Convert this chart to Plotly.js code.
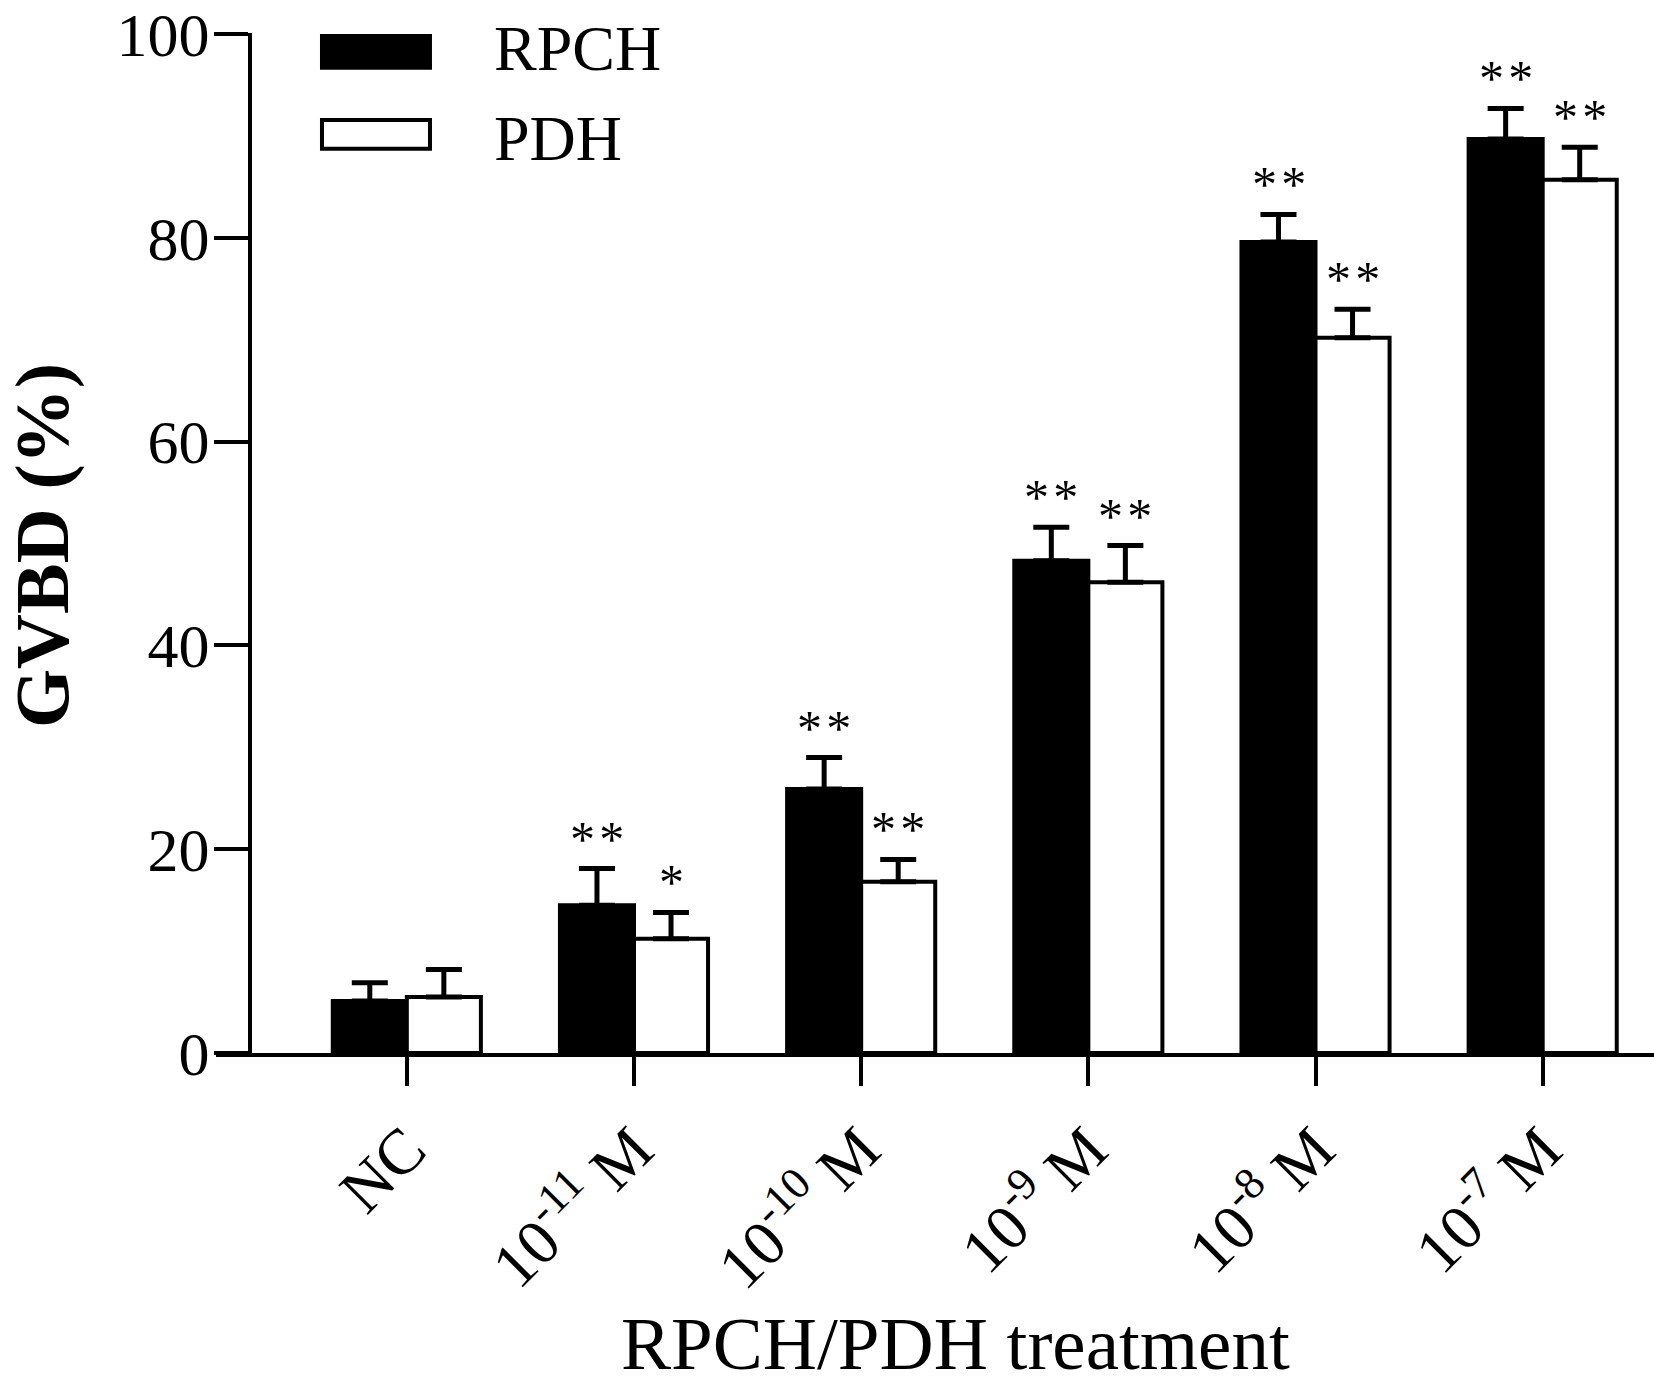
<!DOCTYPE html>
<html>
<head>
<meta charset="utf-8">
<script src="https://cdn.plot.ly/plotly-3.0.1.min.js"></script>
<style>
  html, body { margin: 0; padding: 0; background: #fff; }
  #plot { width: 1654px; height: 1394px; }
</style>
</head>
<body>
<div id="plot"></div>
<script>
var categories = ["NC", "10<sup>-11</sup> M", "10<sup>-10</sup> M", "10<sup>-9</sup> M", "10<sup>-8</sup> M", "10<sup>-7</sup> M"];

var rpch = [5.1, 14.5, 25.9, 48.3, 79.6, 89.7];
var rpchErr = [1.8, 3.6, 3.1, 3.3, 2.7, 3.0];
var rpchSig = ["", "**", "**", "**", "**", "**"];

var pdh = [5.5, 11.2, 16.8, 46.2, 70.2, 85.7];
var pdhErr = [2.7, 2.6, 2.2, 3.6, 2.8, 3.2];
var pdhSig = ["", "*", "**", "**", "**", "**"];

var yTicks = [0, 20, 40, 60, 80, 100];

var zeros = categories.map(function () { return 0; });
var font = "Liberation Serif, Times New Roman, serif";

//RPCH bars
var traceRPCH = {
  x: categories,
  y: rpch,
  type: "bar",
  name: "RPCH",
  marker: { color: "#000", line: { color: "#000", width: 4 } },
  error_y: { type: "data", array: rpchErr, arrayminus: zeros, symmetric: false,
             color: "#000", thickness: 5, width: 18 }
};

//PDH bars
var tracePDH = {
  x: categories,
  y: pdh,
  type: "bar",
  name: "PDH",
  marker: { color: "#fff", line: { color: "#000", width: 4 } },
  error_y: { type: "data", array: pdhErr, arrayminus: zeros, symmetric: false,
             color: "#000", thickness: 5, width: 18 }
};

// stars get a hair space between them, like the original
function stars(s) { return s.split("").join("&#8202;"); }

// significance stars above the error bars
var annotations = [];
categories.forEach(function (c, i) {
  if (rpchSig[i]) annotations.push({
    x: c, y: rpch[i] + rpchErr[i], xref: "x", yref: "y", text: stars(rpchSig[i]),
    showarrow: false, xshift: -37, yshift: 30, yanchor: "middle",
    font: { family: font, size: 50, color: "#000" }
  });
  if (pdhSig[i]) annotations.push({
    x: c, y: pdh[i] + pdhErr[i], xref: "x", yref: "y", text: stars(pdhSig[i]),
    showarrow: false, xshift: 37, yshift: 30, yanchor: "middle",
    font: { family: font, size: 50, color: "#000" }
  });
});

// hand-made legend (wide swatches like the original)
annotations.push({ xref: "paper", yref: "paper", x: 0.192, y: 0.985, xanchor: "left", yanchor: "middle",
  text: "RPCH", showarrow: false, font: { family: font, size: 64, color: "#000" } });
annotations.push({ xref: "paper", yref: "paper", x: 0.192, y: 0.897, xanchor: "left", yanchor: "middle",
  text: "PDH", showarrow: false, font: { family: font, size: 64, color: "#000" } });

// axis titles, placed by hand
annotations.push({ xref: "paper", yref: "paper", x: 0.514, y: -0.285, xanchor: "center", yanchor: "middle",
  text: "RPCH/PDH treatment", showarrow: false, font: { family: font, size: 75, color: "#000" } });
annotations.push({ xref: "paper", yref: "paper", x: -0.121, y: 0.497, xanchor: "center", yanchor: "middle",
  textangle: -90, text: "<b>GVBD (%)</b>", showarrow: false, font: { family: font, size: 76, color: "#000" } });

var shapes = [
  { type: "rect", xref: "paper", yref: "paper", x0: 0.0737, x1: 0.1488, y0: 0.966, y1: 0.997,
    fillcolor: "#000", line: { color: "#000", width: 4 } },
  { type: "rect", xref: "paper", yref: "paper", x0: 0.0737, x1: 0.1488, y0: 0.8864, y1: 0.9146,
    fillcolor: "#fff", line: { color: "#000", width: 4 } }
];

var layout = {
  width: 1654,
  height: 1394,
  margin: { l: 216, r: 0, t: 33, b: 341 },
  paper_bgcolor: "#fff",
  plot_bgcolor: "#fff",
  showlegend: false,
  barmode: "group",
  bargap: 0.348,
  bargroupgap: 0,
  font: { family: font, color: "#000" },
  xaxis: {
    type: "category",
    range: [-0.84, 5.49],
    showline: true, linecolor: "#000", linewidth: 4,
    ticks: "outside", ticklen: 29, tickwidth: 4, tickcolor: "#000",
    tickangle: -45,
    tickfont: { family: font, size: 64, color: "#000" },
    showgrid: false, zeroline: false,
    automargin: false
  },
  yaxis: {
    range: [0, 100.1],
    anchor: "free", position: 0.0236,
    tickvals: yTicks,
    showline: true, linecolor: "#000", linewidth: 4,
    ticks: "outside", ticklen: 34, tickwidth: 4, tickcolor: "#000",
    ticklabelstandoff: -8,
    ticklabeloverflow: "allow",
    tickfont: { family: font, size: 62, color: "#000" },
    showgrid: false, zeroline: false,
    automargin: false
  },
  annotations: annotations,
  shapes: shapes
};

Plotly.newPlot("plot", [traceRPCH, tracePDH], layout, { staticPlot: true });
</script>
</body>
</html>
